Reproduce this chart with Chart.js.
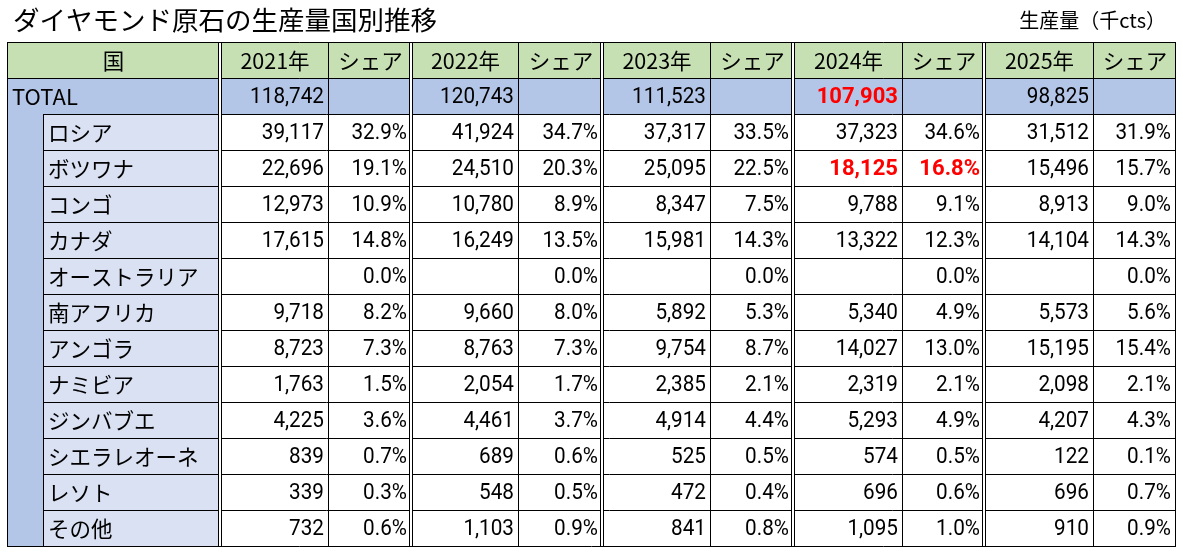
<!DOCTYPE html>
<html>
<head>
<meta charset="utf-8">
<script src="https://cdn.jsdelivr.net/npm/chart.js@4"></script>
<style>
  body { margin: 0; background: #fff; }
  canvas { display: block; }
</style>
</head>
<body>
<canvas id="myTable" width="1183" height="555"></canvas>
<script>

      // data
      const years = ['2021年', '2022年', '2023年', '2024年', '2025年'];
      const countries = ['ロシア', 'ボツワナ', 'コンゴ', 'カナダ', 'オーストラリア', '南アフリカ',
        'アンゴラ', 'ナミビア', 'ジンバブエ', 'シエラレオーネ', 'レソト', 'その他'];
      const totals = [118742, 120743, 111523, 107903, 98825];

      const prod2021 = [39117, 22696, 12973, 17615, null, 9718, 8723, 1763, 4225, 839, 339, 732];
      const prod2022 = [41924, 24510, 10780, 16249, null, 9660, 8763, 2054, 4461, 689, 548, 1103];
      const prod2023 = [37317, 25095, 8347, 15981, null, 5892, 9754, 2385, 4914, 525, 472, 841];
      const prod2024 = [37323, 18125, 9788, 13322, null, 5340, 14027, 2319, 5293, 574, 696, 1095];
      const prod2025 = [31512, 15496, 8913, 14104, null, 5573, 15195, 2098, 4207, 122, 696, 910];

      const share2021 = [32.9, 19.1, 10.9, 14.8, 0.0, 8.2, 7.3, 1.5, 3.6, 0.7, 0.3, 0.6];
      const share2022 = [34.7, 20.3, 8.9, 13.5, 0.0, 8.0, 7.3, 1.7, 3.7, 0.6, 0.5, 0.9];
      const share2023 = [33.5, 22.5, 7.5, 14.3, 0.0, 5.3, 8.7, 2.1, 4.4, 0.5, 0.4, 0.8];
      const share2024 = [34.6, 16.8, 9.1, 12.3, 0.0, 4.9, 13.0, 2.1, 4.9, 0.5, 0.6, 1.0];
      const share2025 = [31.9, 15.7, 9.0, 14.3, 0.0, 5.6, 15.4, 2.1, 4.3, 0.1, 0.7, 0.9];

      // cells shown in bold red: [row (country index, -1 = TOTAL), year index, 'value' | 'share']
      const highlights = [[-1, 3, 'value'], [1, 3, 'value'], [1, 3, 'share']];

      const prod = [prod2021, prod2022, prod2023, prod2024, prod2025];
      const share = [share2021, share2022, share2023, share2024, share2025];
      const rowKeys = ['head', 'TOTAL'].concat(countries);

      // column edges on the x scale (indent, name, then value/share per year)
      const colEdges = [0, 36, 213, 321, 404, 511, 595, 703, 786, 895, 977, 1086, 1168];

      const JP = '"Noto Sans CJK JP", "Noto Sans", sans-serif';
      const NUM = 'Roboto, "Liberation Sans", sans-serif';

      function isRed(r, y, kind) {
        return highlights.some(h => h[0] === r && h[1] === y && h[2] === kind);
      }

      function txt(ctx, s, x, y, align, size, color, bold, sx, family) {
        ctx.save();
        ctx.font = (bold ? 'bold ' : '') + size + 'px ' + (family || JP);
        ctx.fillStyle = color;
        ctx.textBaseline = 'middle';
        ctx.textAlign = align;
        ctx.translate(x, y);
        ctx.scale(sx || 1, 1);
        ctx.fillText(s, 0, 0);
        ctx.restore();
      }

      function num(ctx, s, x, y, red) {
        txt(ctx, s, x, y, 'right', 22.5, red ? '#FF0000' : '#000', red, red ? 0.98 : 0.92, NUM);
      }

      const tablePlugin = {
        id: 'table',
        afterDraw(chart) {
          const ctx = chart.ctx;
          const xs = chart.scales.x, ys = chart.scales.y;
          const X = i => Math.round(xs.getPixelForValue(colEdges[i]));
          const half = (ys.getPixelForValue(1) - ys.getPixelForValue(0)) / 2;
          const top = r => Math.round(ys.getPixelForValue(r) - half);
          const mid = r => ys.getPixelForValue(r) + 1;
          const nRows = rowKeys.length;
          const left = X(0), right = X(colEdges.length - 1);
          const bottom = top(nRows);

          // title + unit
          txt(ctx, 'ダイヤモンド原石の生産量国別推移', 13, 20, 'left', 26.5, '#000');
          txt(ctx, '生産量（千cts）', 1166, 20, 'right', 20, '#000');

          // fills
          ctx.fillStyle = '#C6E0B4';
          ctx.fillRect(left, top(0), right - left, top(1) - top(0));
          ctx.fillStyle = '#B4C6E7';
          ctx.fillRect(left, top(1), right - left, top(2) - top(1));
          ctx.fillRect(left, top(2), X(1) - left, bottom - top(2));
          ctx.fillStyle = '#D9E1F2';
          ctx.fillRect(X(1), top(2), X(2) - X(1), bottom - top(2));

          // grid
          ctx.strokeStyle = '#000';
          ctx.lineWidth = 1;
          function line(x1, y1, x2, y2) {
            ctx.beginPath();
            ctx.moveTo(x1, y1);
            ctx.lineTo(x2, y2);
            ctx.stroke();
          }
          for (let r = 0; r <= nRows; r++) {
            const y = top(r) + 0.5;
            const x0 = (r >= 2 && r < nRows) ? X(1) : left;
            line(x0, y, right + 1, y);
          }
          line(left + 0.5, top(0), left + 0.5, bottom + 1);
          line(right + 0.5, top(0), right + 0.5, bottom + 1);
          line(X(1) + 0.5, top(2), X(1) + 0.5, bottom);
          for (let c = 2; c < colEdges.length - 1; c++) {
            const x = X(c);
            if (c % 2 === 0) {
              // double line before each year
              ctx.clearRect(x - 1, top(0) + 1, 3, bottom - top(0) - 1);
              line(x - 1.5, top(0), x - 1.5, bottom + 1);
              line(x + 1.5, top(0), x + 1.5, bottom + 1);
            } else {
              line(x + 0.5, top(0), x + 0.5, bottom + 1);
            }
          }

          // header row
          txt(ctx, '国', (left + X(2)) / 2, mid(0), 'center', 21.5, '#000');
          years.forEach((y, i) => {
            txt(ctx, y, (X(2 + i * 2) + X(3 + i * 2)) / 2 + 1, mid(0), 'center', 21.5, '#000');
            txt(ctx, 'シェア', (X(3 + i * 2) + X(4 + i * 2)) / 2 + 1, mid(0), 'center', 21.5, '#000');
          });

          // TOTAL row
          txt(ctx, 'TOTAL', left + 5, mid(1), 'left', 22, '#000');
          totals.forEach((v, i) => {
            num(ctx, v.toLocaleString('en-US'), X(3 + i * 2) - 4, mid(1), isRed(-1, i, 'value'));
          });

          // countries
          countries.forEach((name, k) => {
            const r = k + 2;
            txt(ctx, name, X(1) + 5, mid(r), 'left', 21.5, '#000');
            for (let i = 0; i < years.length; i++) {
              const v = prod[i][k];
              if (v !== null) {
                num(ctx, v.toLocaleString('en-US'), X(3 + i * 2) - 4, mid(r), isRed(k, i, 'value'));
              }
              num(ctx, share[i][k].toFixed(1) + '%', X(4 + i * 2) - 4, mid(r), isRed(k, i, 'share'));
            }
          });
        }
      };

      const configTable = {
        type: 'bar',
        data: {
          labels: rowKeys,
          datasets: []
        },
        options: {
          responsive: false,
          animation: false,
          layout: {
            padding: { left: 7, right: 8, top: 42, bottom: 9 }
          },
          plugins: {
            legend: { display: false },
            tooltip: { enabled: false }
          },
          scales: {
            x: { type: 'linear', min: 0, max: 1168, offset: false, display: false },
            y: { type: 'category', offset: true, display: false }
          }
        },
        plugins: [tablePlugin]
      };

      var myTable = new Chart(document.getElementById('myTable'), configTable);

</script>
</body>
</html>
